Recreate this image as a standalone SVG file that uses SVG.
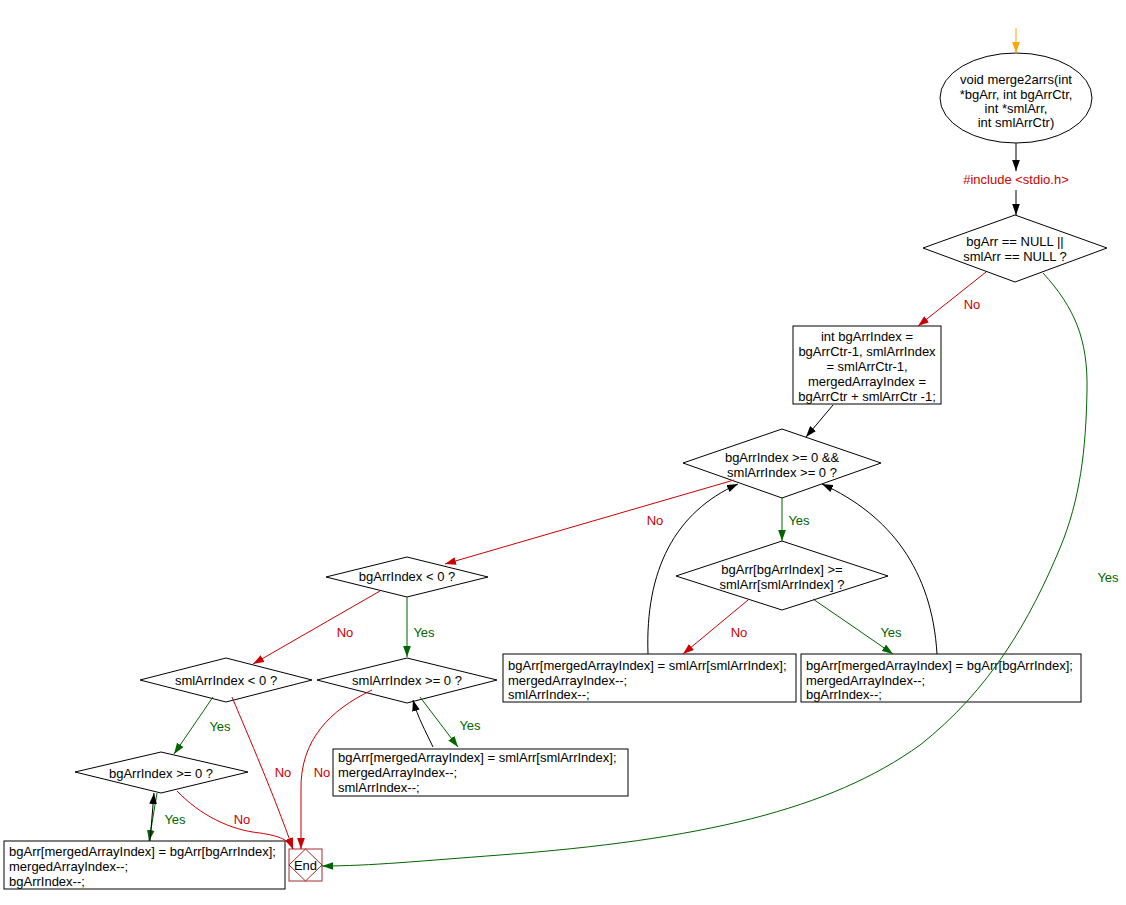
<svg xmlns="http://www.w3.org/2000/svg" width="1126" height="905" viewBox="0 0 1126 905">
<style>
text{font-family:"Liberation Sans",Arial,sans-serif;font-size:13px;fill:#000}
.c{text-anchor:middle}
.node{fill:#fff;stroke:#000;stroke-width:1}
.e{fill:none;stroke-width:1}
.blk{stroke:#000}
.red{stroke:#cc0000}
.grn{stroke:#006400}
.org{stroke:#ffa500}
.lr{fill:#cc0000}
.lg{fill:#006400}
</style>
<defs>
<marker id="ab" viewBox="0 0 10 7" refX="10" refY="3.5" markerWidth="11" markerHeight="8" markerUnits="userSpaceOnUse" orient="auto"><path d="M0,0 L10,3.5 L0,7 z" fill="#000"/></marker>
<marker id="ar" viewBox="0 0 10 7" refX="10" refY="3.5" markerWidth="11" markerHeight="8" markerUnits="userSpaceOnUse" orient="auto"><path d="M0,0 L10,3.5 L0,7 z" fill="#cc0000"/></marker>
<marker id="ag" viewBox="0 0 10 7" refX="10" refY="3.5" markerWidth="11" markerHeight="8" markerUnits="userSpaceOnUse" orient="auto"><path d="M0,0 L10,3.5 L0,7 z" fill="#006400"/></marker>
<marker id="ao" viewBox="0 0 10 7" refX="10" refY="3.5" markerWidth="11" markerHeight="8" markerUnits="userSpaceOnUse" orient="auto"><path d="M0,0 L10,3.5 L0,7 z" fill="#ffa500"/></marker>
</defs>
<rect width="1126" height="905" fill="#fff"/>

<g id="start">
<ellipse class="node" cx="1016" cy="98" rx="76" ry="45"/>
<text class="c" x="1016" y="84">void merge2arrs(int</text>
<text class="c" x="1016" y="99">*bgArr, int bgArrCtr,</text>
<text class="c" x="1016" y="113">int *smlArr,</text>
<text class="c" x="1016" y="127">int smlArrCtr)</text>
</g>

<g id="include">
<text class="c lr" x="1016" y="184">#include &lt;stdio.h&gt;</text>
</g>

<g id="d1">
<polygon class="node" points="1015,215 1107,248 1015,282 923,248"/>
<text class="c" x="1015" y="246">bgArr == NULL ||</text>
<text class="c" x="1015" y="261">smlArr == NULL ?</text>
</g>

<g id="box1">
<rect class="node" x="793" y="326" width="148" height="78"/>
<text class="c" x="867" y="341">int bgArrIndex =</text>
<text class="c" x="867" y="356">bgArrCtr-1, smlArrIndex</text>
<text class="c" x="867" y="371">= smlArrCtr-1,</text>
<text class="c" x="867" y="386">mergedArrayIndex =</text>
<text class="c" x="867" y="401">bgArrCtr + smlArrCtr -1;</text>
</g>

<g id="d2">
<polygon class="node" points="782,429 881,463 782,498 683,463"/>
<text class="c" x="782" y="462">bgArrIndex &gt;= 0 &amp;&amp;</text>
<text class="c" x="782" y="477">smlArrIndex &gt;= 0 ?</text>
</g>

<g id="d3">
<polygon class="node" points="782,541 888,576 782,610 676,576"/>
<text class="c" x="782" y="574">bgArr[bgArrIndex] &gt;=</text>
<text class="c" x="782" y="589">smlArr[smlArrIndex] ?</text>
</g>

<g id="boxL">
<rect class="node" x="503" y="654" width="293" height="48"/>
<text x="508" y="670">bgArr[mergedArrayIndex] = smlArr[smlArrIndex];</text>
<text x="508" y="685">mergedArrayIndex--;</text>
<text x="508" y="699">smlArrIndex--;</text>
</g>

<g id="boxR">
<rect class="node" x="801" y="654" width="280" height="48"/>
<text x="806" y="670">bgArr[mergedArrayIndex] = bgArr[bgArrIndex];</text>
<text x="806" y="685">mergedArrayIndex--;</text>
<text x="806" y="699">bgArrIndex--;</text>
</g>

<g id="d4">
<polygon class="node" points="407,557 488,577 407,597 326,577"/>
<text class="c" x="407" y="581">bgArrIndex &lt; 0 ?</text>
</g>

<g id="d5">
<polygon class="node" points="407,658 497,680 407,703 317,680"/>
<text class="c" x="407" y="685">smlArrIndex &gt;= 0 ?</text>
</g>

<g id="d6">
<polygon class="node" points="226,658 312,680 226,702 140,680"/>
<text class="c" x="226" y="685">smlArrIndex &lt; 0 ?</text>
</g>

<g id="boxS">
<rect class="node" x="333" y="749" width="295" height="47"/>
<text x="338" y="762">bgArr[mergedArrayIndex] = smlArr[smlArrIndex];</text>
<text x="338" y="777">mergedArrayIndex--;</text>
<text x="338" y="792">smlArrIndex--;</text>
</g>

<g id="d7">
<polygon class="node" points="161,752 248,772 161,793 75,772"/>
<text class="c" x="161" y="778">bgArrIndex &gt;= 0 ?</text>
</g>

<g id="boxB">
<rect class="node" x="4" y="841" width="281" height="48"/>
<text x="9" y="856">bgArr[mergedArrayIndex] = bgArr[bgArrIndex];</text>
<text x="9" y="871">mergedArrayIndex--;</text>
<text x="9" y="886">bgArrIndex--;</text>
</g>

<g id="end">
<rect x="289" y="849" width="33" height="32" fill="#fff" stroke="#a52a2a"/>
<polygon points="305.5,849 322,865 305.5,881 289,865" fill="none" stroke="#a52a2a"/>
<text class="c" x="305.5" y="870">End</text>
</g>

<g id="connectors">
<path class="e org" d="M1016,28 L1016,53" marker-end="url(#ao)"/>
<path class="e blk" d="M1016,143 L1016,171" marker-end="url(#ab)"/>
<path class="e blk" d="M1016,190 L1016,215" marker-end="url(#ab)"/>
<path class="e red" d="M986,272 L918,326" marker-end="url(#ar)"/>
<text class="c lr" x="972" y="309">No</text>
<path class="e grn" d="M1043,273 C1075,308 1088,340 1087,390 C1086,450 1080,500 1060,548 C1030,620 990,690 920,745 C830,810 700,840 500,855 C420,861 370,866 322,866" marker-end="url(#ag)"/>
<text class="c lg" x="1108" y="582">Yes</text>
<path class="e blk" d="M833,405 L806,437" marker-end="url(#ab)"/>
<path class="e grn" d="M782,498 L782,541" marker-end="url(#ag)"/>
<text class="c lg" x="799" y="525">Yes</text>
<path class="e red" d="M734,480 L445,564" marker-end="url(#ar)"/>
<text class="c lr" x="655" y="525">No</text>
<path class="e red" d="M748,600 L683,654" marker-end="url(#ar)"/>
<text class="c lr" x="739" y="637">No</text>
<path class="e grn" d="M813,599 L893,654" marker-end="url(#ag)"/>
<text class="c lg" x="891" y="637">Yes</text>
<path class="e blk" d="M648,654 C645,570 675,512 738,484" marker-end="url(#ab)"/>
<path class="e blk" d="M937,654 C932,570 890,515 822,484" marker-end="url(#ab)"/>
<path class="e grn" d="M407,597 L407,657" marker-end="url(#ag)"/>
<text class="c lg" x="424" y="637">Yes</text>
<path class="e red" d="M380,591 L253,664" marker-end="url(#ar)"/>
<text class="c lr" x="345" y="637">No</text>
<path class="e grn" d="M420,697 L458,747" marker-end="url(#ag)"/>
<text class="c lg" x="470" y="730">Yes</text>
<path class="e blk" d="M433,747 C425,730 418,718 413,700" marker-end="url(#ab)"/>
<path class="e red" d="M372,690 C330,710 300,740 301,790 L301,849" marker-end="url(#ar)"/>
<text class="c lr" x="322" y="777">No</text>
<path class="e grn" d="M213,697 L174,754" marker-end="url(#ag)"/>
<text class="c lg" x="220" y="731">Yes</text>
<path class="e red" d="M232,697 C250,740 272,790 293,849" marker-end="url(#ar)"/>
<text class="c lr" x="283" y="777">No</text>
<path class="e grn" d="M157,793 L149,841" marker-end="url(#ag)"/>
<text class="c lg" x="175" y="824">Yes</text>
<path class="e blk" d="M150,841 L154,793" marker-end="url(#ab)"/>
<path class="e red" d="M177,791 C200,815 230,830 260,833 C280,836 289,840 293,849" marker-end="url(#ar)"/>
<text class="c lr" x="242" y="824">No</text>
</g>
</svg>
